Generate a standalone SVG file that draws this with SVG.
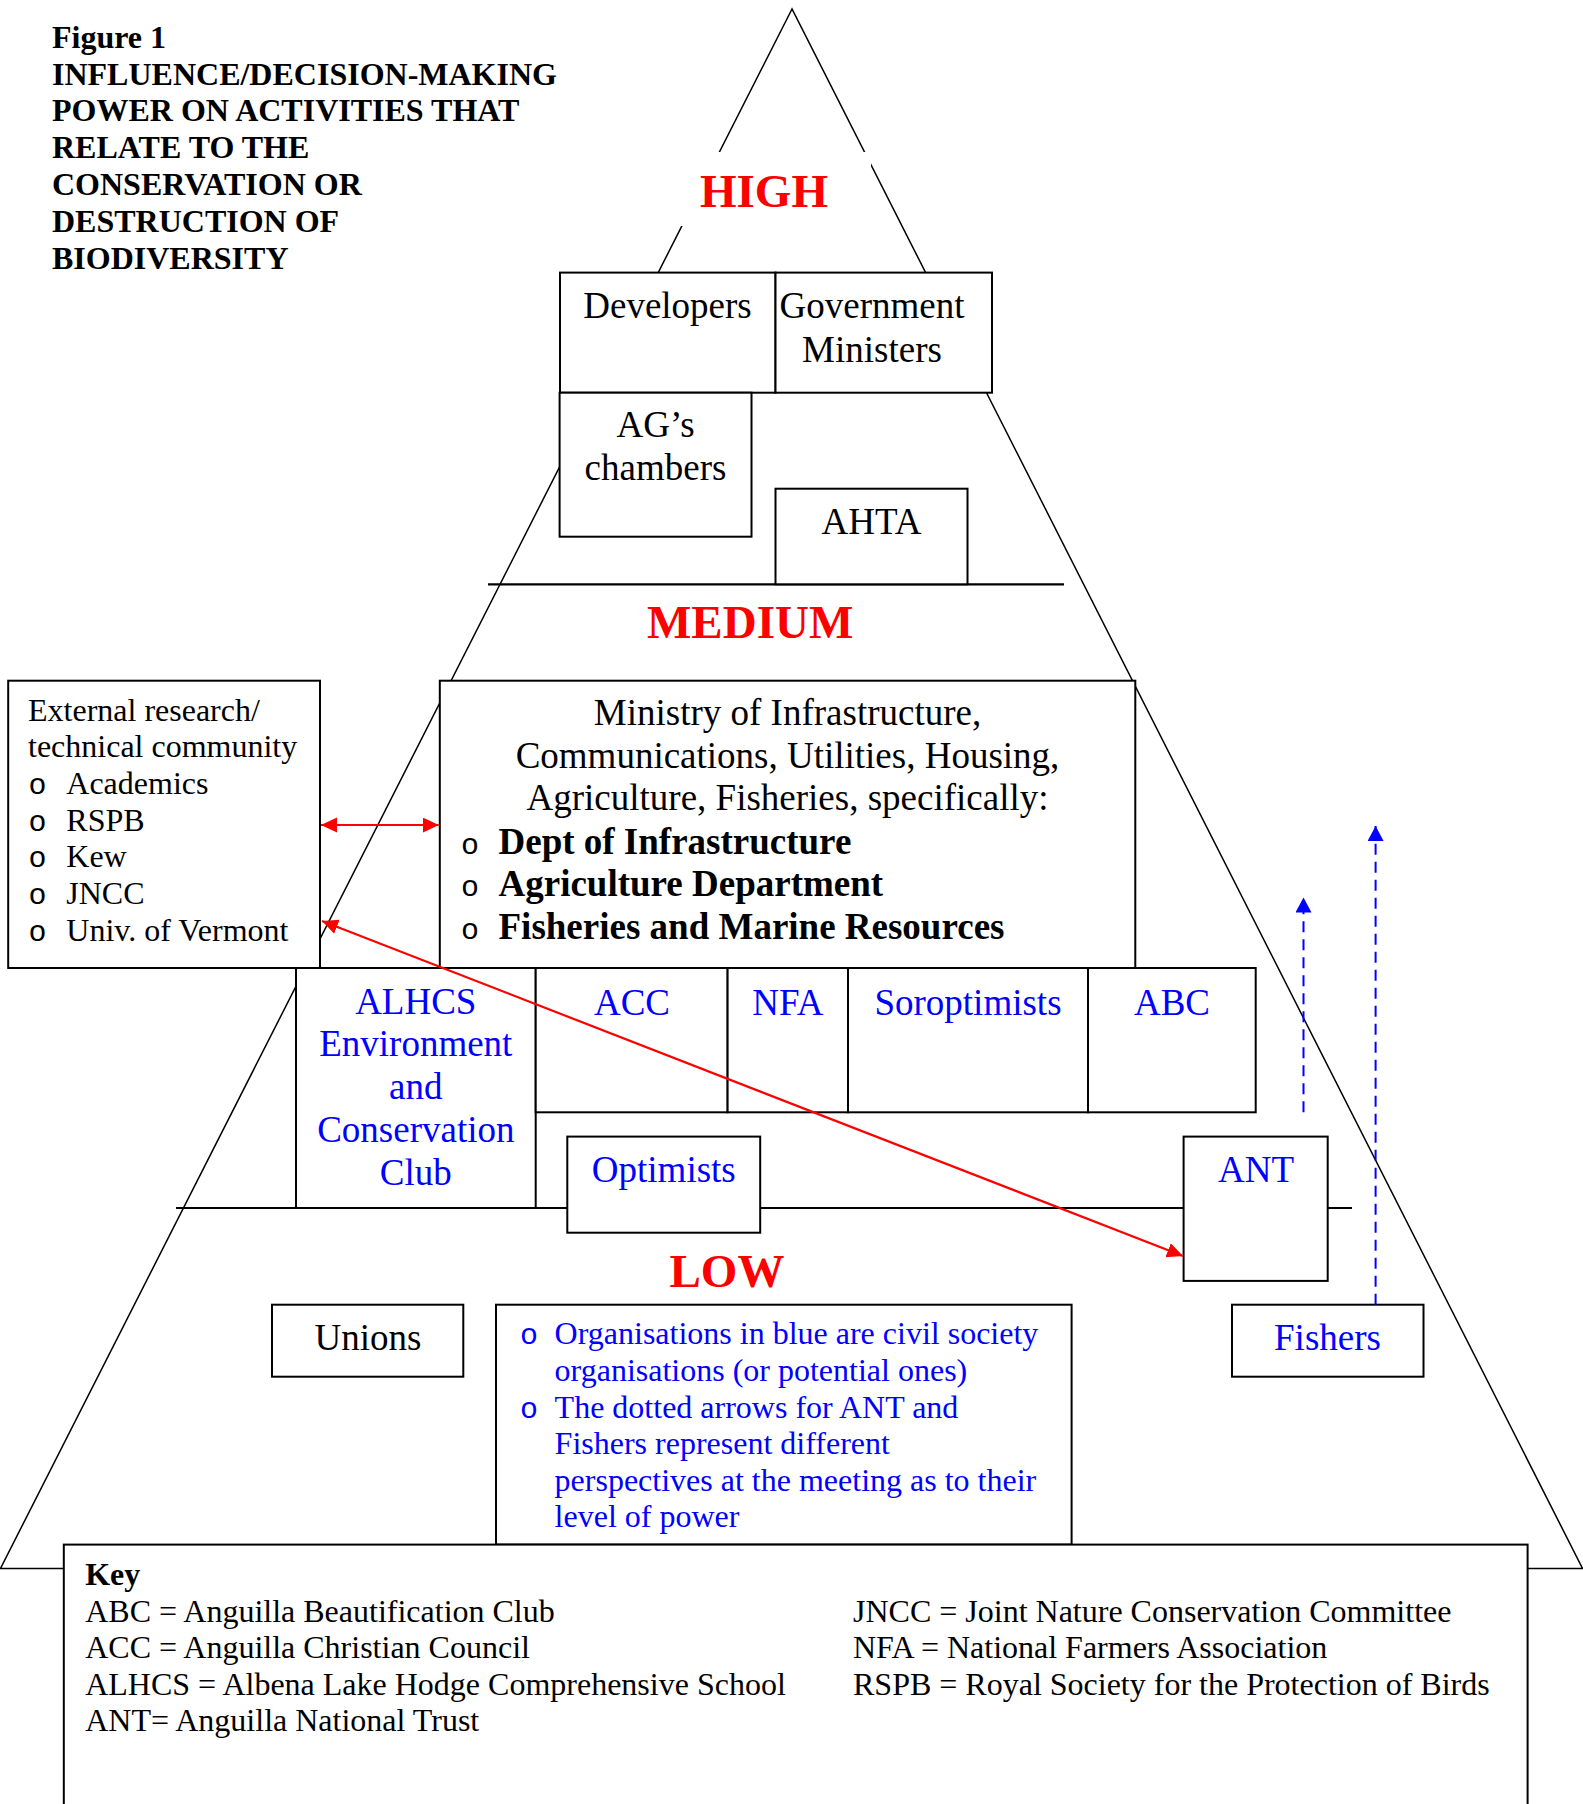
<svg xmlns="http://www.w3.org/2000/svg" width="1583" height="1804" viewBox="0 0 1583 1804">
<style>
text{font-family:"Liberation Serif","Times New Roman",serif;}
.t32{font-size:32px;fill:#000;}
.t37{font-size:37px;fill:#000;}
.b32{font-size:32px;font-weight:bold;fill:#000;}
.b37{font-size:37px;font-weight:bold;fill:#000;}
.lvl{font-size:47px;font-weight:bold;fill:#FF0000;}
.blue{fill:#0000FF;}
.mid{text-anchor:middle;}
.bul{font-family:"Liberation Mono","Courier New",monospace;font-size:30px;}
.box{fill:#fff;stroke:#000;stroke-width:2;}
.edge{fill:none;stroke:#000;stroke-width:1.5;}
.div{stroke:#000;stroke-width:2.2;}
.red{stroke:#FF0000;stroke-width:2.2;fill:none;}
.dash{stroke:#0000FF;stroke-width:2;fill:none;stroke-dasharray:11,7;}
</style>
<defs>
<marker id="ahRed" markerUnits="userSpaceOnUse" markerWidth="17" markerHeight="16" refX="16" refY="7.5" orient="auto-start-reverse">
<path d="M0,0 L16,7.5 L0,15 Z" fill="#FF0000"/>
</marker>
<marker id="ahBlue" markerUnits="userSpaceOnUse" markerWidth="17" markerHeight="17" refX="15" refY="8" orient="auto">
<path d="M0,0 L15,8 L0,16 Z" fill="#0000FF"/>
</marker>
</defs>
<rect width="1583" height="1804" fill="#fff"/>

<g id="pyramid">
<polygon class="edge" points="792,9 0.5,1568.4 1582.5,1568.4"/>
<rect x="679" y="152" width="192" height="74" fill="#fff"/>
<line class="div" x1="488" y1="584.3" x2="1064" y2="584.3"/>
<line class="div" x1="176" y1="1208" x2="1352" y2="1208"/>
</g>

<g id="title">
<text class="b32" x="52" y="47.8">Figure 1</text>
<text class="b32" x="52" y="84.6">INFLUENCE/DECISION-MAKING</text>
<text class="b32" x="52" y="121.4">POWER ON ACTIVITIES THAT</text>
<text class="b32" x="52" y="158.2">RELATE TO THE</text>
<text class="b32" x="52" y="195">CONSERVATION OR</text>
<text class="b32" x="52" y="231.8">DESTRUCTION OF</text>
<text class="b32" x="52" y="268.6">BIODIVERSITY</text>
</g>

<g id="levels">
<text class="lvl" x="700" y="207">HIGH</text>
<text class="lvl" x="647" y="638">MEDIUM</text>
<text class="lvl" x="669.5" y="1287">LOW</text>
</g>

<g id="node-developers">
<rect class="box" x="560" y="272.6" width="215.5" height="120.1"/>
<text class="t37 mid" x="667.5" y="318">Developers</text>
</g>
<g id="node-government">
<rect class="box" x="775.5" y="272.6" width="216.5" height="120.1"/>
<text class="t37 mid" x="872" y="318">Government</text>
<text class="t37 mid" x="872" y="361.5">Ministers</text>
</g>
<g id="node-ags">
<rect class="box" x="559.6" y="392.7" width="191.9" height="144"/>
<text class="t37 mid" x="655.5" y="436.7">AG’s</text>
<text class="t37 mid" x="655.5" y="480">chambers</text>
</g>
<g id="node-ahta">
<rect class="box" x="775.5" y="488.7" width="192" height="95.6"/>
<text class="t37 mid" x="871.5" y="534">AHTA</text>
</g>

<g id="node-external">
<rect class="box" x="8.2" y="680.7" width="311.8" height="287.3"/>
<text class="t32" x="28" y="720.7">External research/</text>
<text class="t32" x="28" y="757.3">technical community</text>
<text class="bul" x="28.5" y="794">o</text><text class="t32" x="66.3" y="794">Academics</text>
<text class="bul" x="28.5" y="830.7">o</text><text class="t32" x="66.3" y="830.7">RSPB</text>
<text class="bul" x="28.5" y="867.4">o</text><text class="t32" x="66.3" y="867.4">Kew</text>
<text class="bul" x="28.5" y="904">o</text><text class="t32" x="66.3" y="904">JNCC</text>
<text class="bul" x="28.5" y="940.7">o</text><text class="t32" x="66.3" y="940.7">Univ. of Vermont</text>
</g>

<g id="node-ministry">
<rect class="box" x="439.8" y="680.7" width="695.5" height="287.3"/>
<text class="t37 mid" x="787.5" y="725.3">Ministry of Infrastructure,</text>
<text class="t37 mid" x="787.5" y="767.6">Communications, Utilities, Housing,</text>
<text class="t37 mid" x="787.5" y="810">Agriculture, Fisheries, specifically:</text>
<text class="bul" x="461" y="853.9">o</text><text class="b37" x="498.5" y="853.9">Dept of Infrastructure</text>
<text class="bul" x="461" y="896.3">o</text><text class="b37" x="498.5" y="896.3">Agriculture Department</text>
<text class="bul" x="461" y="938.6">o</text><text class="b37" x="498.5" y="938.6">Fisheries and Marine Resources</text>
</g>

<g id="node-alhcs">
<rect class="box" x="296" y="968" width="239.7" height="240"/>
<text class="t37 mid blue" x="415.8" y="1013.5">ALHCS</text>
<text class="t37 mid blue" x="415.8" y="1056.3">Environment</text>
<text class="t37 mid blue" x="415.8" y="1099.1">and</text>
<text class="t37 mid blue" x="415.8" y="1141.9">Conservation</text>
<text class="t37 mid blue" x="415.8" y="1184.7">Club</text>
</g>
<g id="node-acc">
<rect class="box" x="535.7" y="968" width="191.9" height="144.3"/>
<text class="t37 mid blue" x="632" y="1014.5">ACC</text>
</g>
<g id="node-nfa">
<rect class="box" x="727.6" y="968" width="120.4" height="144.3"/>
<text class="t37 mid blue" x="787.8" y="1014.5">NFA</text>
</g>
<g id="node-soroptimists">
<rect class="box" x="848" y="968" width="240" height="144.3"/>
<text class="t37 mid blue" x="968" y="1014.5">Soroptimists</text>
</g>
<g id="node-abc">
<rect class="box" x="1088" y="968" width="167.7" height="144.3"/>
<text class="t37 mid blue" x="1172" y="1014.5">ABC</text>
</g>
<g id="node-optimists">
<rect class="box" x="567.3" y="1136.6" width="192.9" height="96.1"/>
<text class="t37 mid blue" x="663.8" y="1182">Optimists</text>
</g>
<g id="node-ant">
<rect class="box" x="1183.6" y="1136.6" width="144.1" height="144.3"/>
<text class="t37 mid blue" x="1256" y="1182">ANT</text>
</g>
<g id="node-unions">
<rect class="box" x="272" y="1304.7" width="191.3" height="72"/>
<text class="t37 mid" x="368" y="1350">Unions</text>
</g>
<g id="node-fishers">
<rect class="box" x="1232" y="1304.7" width="191.5" height="72"/>
<text class="t37 mid blue" x="1327.5" y="1350">Fishers</text>
</g>
<g id="node-note">
<rect class="box" x="496" y="1304.7" width="575.6" height="239.9"/>
<text class="bul blue" x="520" y="1344.4">o</text><text class="t32 blue" x="554.6" y="1344.4">Organisations in blue are civil society</text>
<text class="t32 blue" x="554.6" y="1381">organisations (or potential ones)</text>
<text class="bul blue" x="520" y="1417.5">o</text><text class="t32 blue" x="554.6" y="1417.5">The dotted arrows for ANT and</text>
<text class="t32 blue" x="554.6" y="1454">Fishers represent different</text>
<text class="t32 blue" x="554.6" y="1490.7">perspectives at the meeting as to their</text>
<text class="t32 blue" x="554.6" y="1527">level of power</text>
</g>

<g id="node-key">
<rect class="box" x="63.8" y="1544.6" width="1463.8" height="300"/>
<text class="b32" x="85.2" y="1585">Key</text>
<text class="t32" x="85.2" y="1621.6">ABC = Anguilla Beautification Club</text>
<text class="t32" x="85.2" y="1658.2">ACC = Anguilla Christian Council</text>
<text class="t32" x="85.2" y="1694.8">ALHCS = Albena Lake Hodge Comprehensive School</text>
<text class="t32" x="85.2" y="1731.4">ANT= Anguilla National Trust</text>
<text class="t32" x="853" y="1621.6">JNCC = Joint Nature Conservation Committee</text>
<text class="t32" x="853" y="1658.2">NFA = National Farmers Association</text>
<text class="t32" x="853" y="1694.8">RSPB = Royal Society for the Protection of Birds</text>
</g>

<g id="connectors">
<line class="red" x1="321" y1="825" x2="438.8" y2="825" marker-start="url(#ahRed)" marker-end="url(#ahRed)"/>
<line class="red" x1="322" y1="921" x2="1183" y2="1256" marker-start="url(#ahRed)" marker-end="url(#ahRed)"/>
<line class="dash" x1="1303.5" y1="1112.3" x2="1303.5" y2="897.5" marker-end="url(#ahBlue)"/>
<line class="dash" x1="1375.6" y1="1304.7" x2="1375.6" y2="826" marker-end="url(#ahBlue)"/>
</g>
</svg>
